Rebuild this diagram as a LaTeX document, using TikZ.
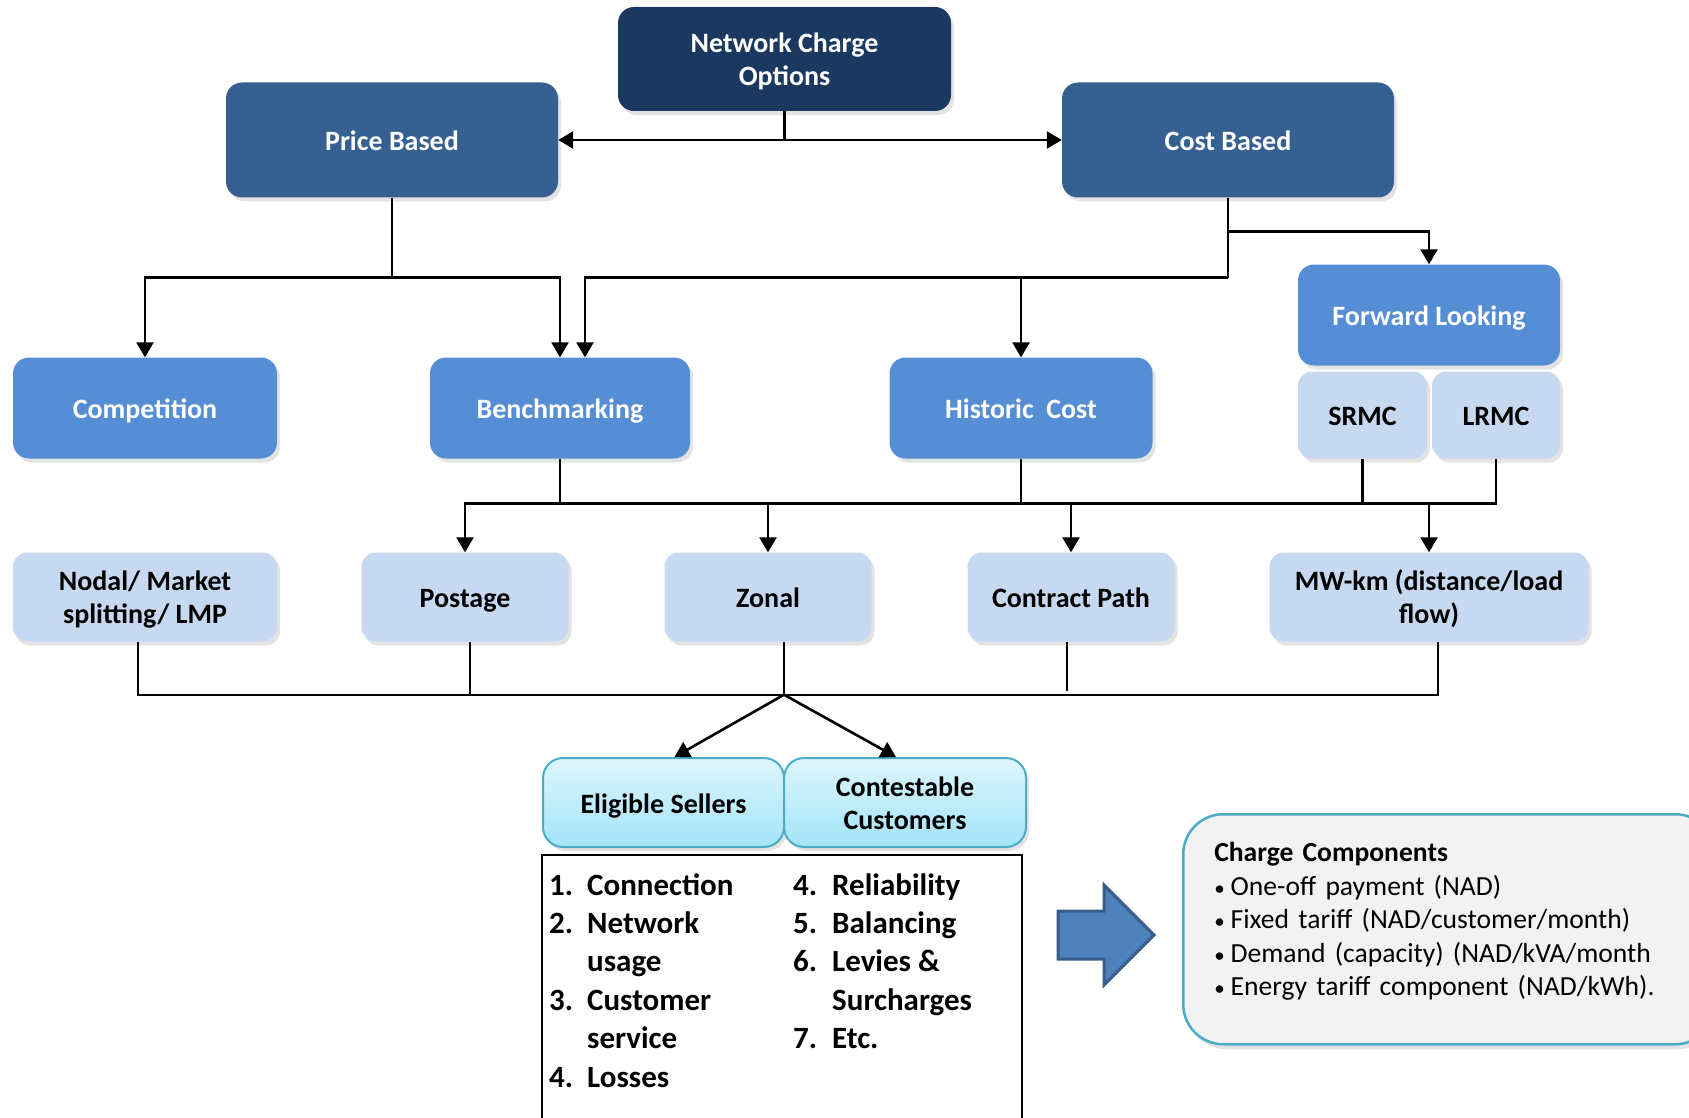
\documentclass[tikz,border=0pt]{standalone}
\usepackage{fontspec}
\setmainfont{Carlito}
\definecolor{navy}{RGB}{27,56,96}
\definecolor{basis}{RGB}{55,96,146}
\definecolor{method}{RGB}{85,142,213}
\definecolor{pale}{RGB}{198,217,241}
\definecolor{cyanedge}{RGB}{75,172,198}
\definecolor{cyantop}{RGB}{222,246,253}
\definecolor{cyanbot}{RGB}{162,228,248}
\definecolor{panel}{RGB}{242,242,242}
\definecolor{arrowfill}{RGB}{79,129,189}
\definecolor{arrowedge}{RGB}{56,93,138}
\usetikzlibrary{arrows.meta,calc,shadows}
\newcommand{\blt}{{\fontsize{21}{21}\selectfont\textbullet}\hspace{6pt}}
\newcommand{\twolines}[2]{\raisebox{0pt}[30pt][43pt]{\begin{tabular}[t]{@{}c@{}}#1\\#2\end{tabular}}}

\begin{document}
\begin{tikzpicture}[x=1pt,y=-1pt,
    >={Triangle[length=15pt,width=17pt]},
    box/.style={rounded corners=16pt,align=center,inner sep=0pt,
      font=\bfseries\fontsize{28}{33}\selectfont,
      execute at begin node={\rule{0pt}{28pt}},
      execute at end node={\rule[-7pt]{0pt}{7pt}},
      drop shadow={shadow xshift=3pt,shadow yshift=-4pt,opacity=0.22}},
    rootbox/.style={box,fill=navy,text=white,minimum width=333pt,minimum height=104pt},
    basisbox/.style={box,fill=basis,text=white,minimum width=332pt,minimum height=115pt},
    methodbox/.style={box,fill=method,text=white,minimum width=262pt,minimum height=101pt},
    costbox/.style={box,fill=pale,rounded corners=14pt,minimum width=128pt,minimum height=87pt},
    pricingbox/.style={box,fill=pale,rounded corners=14pt,minimum width=207pt,minimum height=89pt},
    marketbox/.style={box,draw=cyanedge,line width=2pt,top color=cyantop,bottom color=cyanbot,
      rounded corners=20pt,minimum width=241pt,minimum height=89pt},
    chargebox/.style={rounded corners=40pt,draw=cyanedge,line width=2.5pt,fill=panel,
      align=left,text width=470pt,inner xsep=31pt,inner ysep=0pt,minimum height=230pt,
      text depth=155pt,font=\fontsize{27.6}{33.6}\selectfont,
      drop shadow={shadow xshift=3pt,shadow yshift=-5pt,opacity=0.22}},
    duty/.style={anchor=base west,inner sep=0pt,font=\bfseries\fontsize{31}{38.4}\selectfont},
    link/.style={line width=2.6pt},
    feed/.style={link,->},
    tie/.style={line width=1.6pt}]
  \useasboundingbox (0,0) rectangle (1689,1118);

  % upper levels
  \node[rootbox] (nco) at (784.5,59) {\twolines{Network Charge}{Options}};
  \node[basisbox] (pb) at (392,140) {Price Based};
  \node[basisbox] (cb) at (1228,140) {Cost Based};
  \node[methodbox,minimum width=264pt] (comp) at (145,408) {Competition};
  \node[methodbox,minimum width=260pt] (bench) at (560,408) {Benchmarking};
  \node[methodbox,minimum width=263pt] (hist) at (1021,408) {Historic\ \ Cost};
  \node[methodbox] (fl) at (1429,315) {Forward Looking};
  \node[costbox,minimum width=129pt] (srmc) at (1362.5,415) {SRMC};
  \node[costbox] (lrmc) at (1496,415) {LRMC};

  % pricing methods
  \node[pricingbox,minimum width=264pt] (nodal) at (145,597) {\twolines{Nodal/ Market}{splitting/ LMP}};
  \node[pricingbox] (post) at (465,597) {Postage};
  \node[pricingbox] (zonal) at (768,597) {Zonal};
  \node[pricingbox] (cpath) at (1071,597) {Contract Path};
  \node[pricingbox,minimum width=319pt] (mwkm) at (1429,597) {\twolines{MW-km (distance/load}{flow)}};

  % market parties
  \node[marketbox] (sell) at (663.5,802.5) {Eligible Sellers};
  \node[marketbox,minimum width=242pt] (cust) at (905,802.5) {\twolines{Contestable}{Customers}};

  \node[draw,line width=1.5pt,minimum width=480pt,minimum height=300pt,
    anchor=north west,inner sep=0pt] (frame) at (541,854) {};
  \node[duty] (dleft) at (549,895) {\begin{tabular}[t]{@{}p{38pt}@{}l@{}}
    1.&Connection\\2.&Network\\&usage\\3.&Customer\\&service\\4.&Losses\end{tabular}};
  \node[duty] (dright) at (793,895) {\begin{tabular}[t]{@{}p{39pt}@{}l@{}}
    4.&Reliability\\5.&Balancing\\6.&Levies \&\\&Surcharges\\7.&Etc.\end{tabular}};

  \draw[fill=arrowfill,draw=arrowedge,line width=3pt,line join=miter]
    (1058,911) -- (1104,911) -- (1104,885) -- (1154,935) -- (1104,985)
    -- (1104,959) -- (1058,959) -- cycle;
  \node[chargebox,anchor=north west] (charge) at (1182,813)
    {\textbf{Charge Components}\\
     \blt One-off payment (NAD)\\
     \blt Fixed tariff (NAD/customer/month)\\
     \blt Demand (capacity) (NAD/kVA/month\\
     \blt Energy tariff component (NAD/kWh).};

  % connectors
  \draw[link] (nco) -- (nco |- pb);
  \draw[link,<->] (pb) -- (cb);
  \draw[link] (pb.south) -- ++(0,80) coordinate (pj);
  \draw[feed] (pj) -| (comp.north);
  \draw[feed] (pj) -| (bench.north);
  \draw[link] (cb.south) -- ++(0,80) coordinate (cj);
  \draw[feed] (cj) -| ([xshift=25pt]bench.north);
  \draw[feed] (cj) -| (hist.north);
  \draw[feed] ([yshift=-34pt]cb.south) -| (fl.north);

  \draw[link] (bench.south) -- ++(0,45) coordinate (bj);
  \draw[link] (hist.south) -- (hist.south |- bj);
  \draw[link] (srmc.south) -- (srmc.south |- bj);
  \draw[feed] (lrmc.south) -- (lrmc.south |- bj) -| (post.north);
  \draw[feed] (zonal.north |- bj) -- (zonal.north);
  \draw[feed] (cpath.north |- bj) -- (cpath.north);
  \draw[feed] (mwkm.north |- bj) -- (mwkm.north);

  \draw[tie] ([xshift=-7pt]nodal.south) -- ++(0,53) coordinate (tj)
    -- ([xshift=9pt]mwkm.south |- tj) -- ([xshift=9pt]mwkm.south);
  \draw[tie] ([xshift=5pt]post.south) -- ([xshift=5pt]post.south |- tj);
  \draw[tie] ([xshift=16pt]zonal.south) -- ([xshift=16pt]zonal.south |- tj) coordinate (fork);
  \draw[tie] ([xshift=-4pt]cpath.south) -- ++(0,49);
  \draw[link,->] (fork) -- ([xshift=11pt]sell.north);
  \draw[link,->] (fork) -- ([xshift=-9pt]cust.north);
\end{tikzpicture}
\end{document}
